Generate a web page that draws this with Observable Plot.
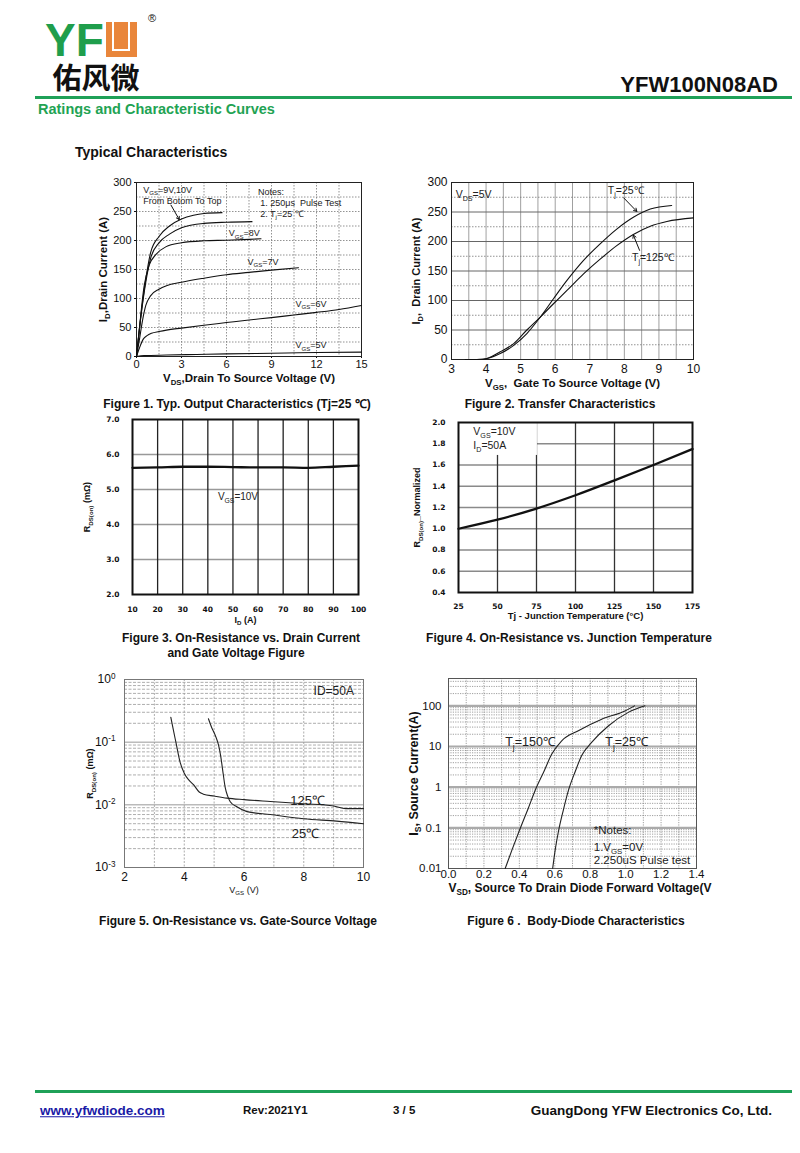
<!DOCTYPE html>
<html>
<head>
<meta charset="utf-8">
<script src="https://cdn.jsdelivr.net/npm/d3@7"></script>
<script src="https://cdn.jsdelivr.net/npm/@observablehq/plot@0.6"></script>
<style>
  body { margin: 0; background: #fff; }
  #page { position: relative; width: 800px; height: 1153px; overflow: hidden; background: #fff;
          font-family: "Liberation Sans", Arial, sans-serif; color: #111; }
  .abs { position: absolute; white-space: nowrap; line-height: 1; }
</style>
</head>
<body>
<div id="page"></div>
<script>
// ---------------- DATA ----------------
// Figure 1: Output characteristics [V_DS (V), I_D (A)]
const fig1Vgs5  = [[0,0],[0.5,1.5],[2,2.5],[4,3.5],[6,4.5],[8,5.3],[10,6],[12,6.8],[15,7.5]];
const fig1Vgs6  = [[0,0],[0.2,15],[0.45,30],[0.7,36],[1,40],[1.5,43],[2,45.5],[3,49],[4.5,54],[6,58.5],[7.5,63],[9,67],[10.5,71.5],[12,76],[13.5,81],[15,88]];
const fig1Vgs7  = [[0,0],[0.2,30],[0.4,62],[0.62,88],[0.95,105],[1.5,116],[2,122],[3,128],[4.5,135],[6,141],[7.5,145],[9,149],[10.8,153]];
const fig1Vgs8  = [[0,0],[0.2,50],[0.5,120],[0.84,157],[1.3,176],[1.95,189],[3,196],[4.5,199.5],[6,200.5],[7.5,202],[8.3,203]];
const fig1Vgs9  = [[0,0],[0.3,70],[0.6,125],[0.95,170],[1.5,196],[2.2,211],[3,222],[4.5,229.5],[6,231.5],[7.7,232.5]];
const fig1Vgs10 = [[0,0],[0.3,72],[0.6,130],[0.95,180],[1.5,207],[2.2,225],[3,237],[3.8,243.5],[4.5,246.5],[5.7,248]];
const fig1XTicks = [0,3,6,9,12,15];
const fig1YTicks = [0,50,100,150,200,250,300];
const fig1Notes = [
  {x:0.45, y:287, t:"V_{GS}=9V,10V"},
  {x:0.45, y:268, t:"From Botom To Top"},
  {x:8.1,  y:284, t:"Notes:"},
  {x:8.25, y:265, t:"1. 250μs  Pulse Test"},
  {x:8.25, y:246, t:"2. T_{j}=25 ℃"},
  {x:6.15, y:212, t:"V_{GS}=8V"},
  {x:7.4,  y:163, t:"V_{GS}=7V"},
  {x:10.6, y:91,  t:"V_{GS}=6V"},
  {x:10.6, y:19,  t:"V_{GS}=5V"}
];
const fig1Arrow = [{x1:2.3, y1:261, x2:2.85, y2:236}];

// Figure 2: Transfer characteristics [V_GS (V), I_D (A)]
const fig2T25  = [[3.4,0],[3.74,0],[4.03,1.7],[4.41,10],[4.8,24],[5.18,44],[5.57,72],[5.95,103],[6.34,134],[6.82,168],[7.3,196],[7.78,221],[8.26,241],[8.75,255],[9.37,261]];
const fig2T125 = [[3.4,0],[3.93,0.5],[4.41,13],[4.8,27],[5.18,50],[5.57,72],[5.95,94.5],[6.34,117],[6.82,145],[7.3,170],[7.78,193],[8.26,212],[8.75,226],[9.23,234],[10,240]];
const fig2XTicks = [3,4,5,6,7,8,9,10];
const fig2YTicks = [0,50,100,150,200,250,300];
const fig2Notes = [
  {x:3.12, y:280, t:"V_{DS}=5V"},
  {x:7.52, y:286, t:"T_{j}=25℃"},
  {x:8.22, y:172, t:"T_{j}=125℃"}
];
const fig2Arrows = [
  {x1:7.98, y1:274, x2:8.36, y2:251},
  {x1:8.44, y1:185, x2:8.26, y2:211}
];

// Figure 3: R_DS(on) vs I_D
const fig3Id   = [10,20,30,40,50,60,70,80,90,100];
const fig3Rds  = [5.62,5.63,5.65,5.65,5.64,5.63,5.63,5.62,5.65,5.68];
const fig3XTicks = [10,20,30,40,50,60,70,80,90,100];
const fig3YTicks = [2,3,4,5,6,7];
const fig3Notes = [{x:44, y:4.78, t:"V_{GS}=10V"}];

// Figure 4: normalized R_DS(on) vs Tj
const fig4Tj   = [25,50,75,100,125,150,175];
const fig4Rn   = [1.0,1.085,1.19,1.315,1.455,1.6,1.75];
const fig4XTicks = [25,50,75,100,125,150,175];
const fig4YTicks = [0.4,0.6,0.8,1.0,1.2,1.4,1.6,1.8,2.0];
const fig4Notes = [{x:34.5, y:1.91, t:"V_{GS}=10V"},{x:34.5, y:1.78, t:"I_{D}=50A"}];
const fig4NoteBox = [{x1:25.6, x2:75.6, y1:1.69, y2:1.995}];

// Figure 5: R_DS(on) vs V_GS (log)
const fig5T125 = [[3.55,0.25],[3.62,0.17],[3.72,0.1],[3.86,0.048],[4.0,0.032],[4.15,0.025],[4.31,0.021],[4.5,0.016],[4.64,0.0148],[5.0,0.0138],[5.43,0.0128],[6.0,0.0121],[6.88,0.0113],[8.0,0.0104],[9.0,0.0096],[9.4,0.0087],[10,0.0087]];
const fig5T25  = [[4.81,0.236],[4.92,0.17],[5.04,0.128],[5.15,0.089],[5.22,0.06],[5.3,0.032],[5.37,0.019],[5.46,0.0135],[5.54,0.0112],[5.76,0.0093],[6.1,0.0078],[6.88,0.0070],[8.0,0.006],[9.1,0.0055],[10,0.005]];
const fig5XTicks = [2,4,6,8,10];
const fig5YTicks = [0.001,0.01,0.1,1];
const fig5Notes = [{x:8.33, y:0.66, t:"ID=50A"},{x:7.55, y:0.0118, t:"125℃"},{x:7.6, y:0.0035, t:"25℃"}];

// Figure 6: body diode (log)
const fig6T150 = [[0.32,0.01],[0.36,0.03],[0.404,0.095],[0.45,0.3],[0.489,0.83],[0.54,2.5],[0.583,6.5],[0.639,13.8],[0.733,24.5],[0.865,47],[0.996,75],[1.05,100]];
const fig6T25  = [[0.588,0.01],[0.603,0.03],[0.62,0.079],[0.648,0.27],[0.677,0.83],[0.715,2.4],[0.752,6],[0.808,12.6],[0.902,32],[1.015,69],[1.109,100]];
const fig6XTicks = [0,0.2,0.4,0.6,0.8,1.0,1.2,1.4];
const fig6YTicks = [0.01,0.1,1,10,100];
const fig6Notes = [
  {x:0.32, y:12.6, t:"T_{j}=150℃"},
  {x:0.885, y:12.6, t:"T_{j}=25℃"},
  {x:0.82, y:0.087, t:"*Notes:"},
  {x:0.82, y:0.034, t:"1.V_{GS}=0V"},
  {x:0.82, y:0.0155, t:"2.250uS Pulse test"}
];

// ---------------- HELPERS ----------------
const page = document.getElementById("page");
const NS = "http://www.w3.org/2000/svg";
const SANS = "'Liberation Sans', Arial, sans-serif";
const DEJA = "'DejaVu Sans', Verdana, sans-serif";

function rich(root) {
  root.querySelectorAll("text").forEach(el => {
    if (el.childElementCount) return;
    const s = el.textContent;
    if (!/[_^]\{/.test(s)) return;
    const fs = parseFloat(getComputedStyle(el).fontSize) || 10;
    el.textContent = "";
    const re = /([_^])\{([^}]*)\}/g;
    let last = 0, m, shift = 0;
    const add = (txt, dy, small) => {
      const t = document.createElementNS(NS, "tspan");
      t.textContent = txt;
      if (dy) t.setAttribute("dy", dy.toFixed(2));
      if (small) t.setAttribute("font-size", (fs * 0.68).toFixed(2));
      el.appendChild(t);
    };
    while ((m = re.exec(s))) {
      if (m.index > last) { add(s.slice(last, m.index), -shift, false); shift = 0; }
      const k = (m[1] === "_" ? 0.28 : -0.4) * fs;
      add(m[2], k - shift, true); shift = k;
      last = re.lastIndex;
    }
    if (last < s.length) add(s.slice(last), -shift, false);
  });
}
function place(svg, left, top) {
  svg.style.position = "absolute";
  svg.style.left = left + "px";
  svg.style.top = top + "px";
  page.appendChild(svg);
  rich(svg);
}
function html(text, x, y, css, anchor = "middle") {
  const d = document.createElement("div");
  d.className = "abs";
  d.textContent = text;
  Object.assign(d.style, css);
  d.style.left = x + "px";
  d.style.top = y + "px";
  d.style.transform = anchor === "middle" ? "translate(-50%,-50%)" : anchor === "end" ? "translate(-100%,-50%)" : "translate(0,-50%)";
  page.appendChild(d);
  return d;
}
function box(x, y, w, h, css) {
  const d = document.createElement("div");
  d.style.position = "absolute";
  d.style.left = x + "px"; d.style.top = y + "px";
  d.style.width = w + "px"; d.style.height = h + "px";
  Object.assign(d.style, css);
  page.appendChild(d);
  return d;
}
const px = d => d[0], py = d => d[1];
const baseStyle = (fs, ff = SANS, fw = "normal") => ({fontFamily: ff, fontSize: fs + "px", fontWeight: fw, color: "#111", background: "transparent", overflow: "visible"});
function minorLog(lo, hi) {
  const out = [];
  for (let e = lo; e < hi; e++) for (let k = 2; k <= 9; k++) out.push(k * Math.pow(10, e));
  return out;
}

// ---------------- HEADER ----------------
const GREEN = "#1fa158";
html("YF", 45, 39.5, {fontSize: "46px", lineHeight: "0.75", fontWeight: "bold", color: "#1f9e4c", fontFamily: SANS}, "start");
const ubox = box(106, 22, 31, 35, {background: "#e9863b"});
const uin = document.createElement("div");
Object.assign(uin.style, {position: "absolute", left: "6px", top: "0px", width: "14px", height: "27px", border: "2px solid #fff", borderTop: "none"});
ubox.appendChild(uin);
html("®", 152, 18, {fontSize: "11px", fontFamily: SANS});
html("佑风微", 96, 77, {fontSize: "29px", lineHeight: "0.95", fontWeight: "bold", fontFamily: "'Noto Sans CJK SC', sans-serif", letterSpacing: "0px"});
html("YFW100N08AD", 778, 85, {fontSize: "22px", fontWeight: "bold", fontFamily: SANS}, "end");
box(35, 96, 757, 2.5, {background: GREEN});
html("Ratings and Characteristic Curves", 38, 109, {fontSize: "14.5px", fontWeight: "bold", color: "#22a353", fontFamily: SANS}, "start");
html("Typical Characteristics", 75, 152, {fontSize: "14px", fontWeight: "bold", fontFamily: SANS}, "start");

// ---------------- FIGURE 1 ----------------
const dotted = {stroke: "#777", strokeWidth: 0.8, strokeDasharray: "1.5,1.5"};
const fig1 = Plot.plot({
  width: 275, height: 221, marginLeft: 40, marginRight: 10, marginTop: 10, marginBottom: 37,
  style: baseStyle(11),
  x: {domain: [0, 15], ticks: fig1XTicks, tickSize: 2, tickPadding: 2, tickFormat: d3.format("d"), label: null},
  y: {domain: [0, 300], ticks: fig1YTicks, tickSize: 2, tickPadding: 3, tickFormat: d3.format("d"), label: null},
  marks: [
    Plot.ruleX(d3.range(1.5, 15, 1.5), dotted),
    Plot.ruleY(d3.range(25, 300, 25), dotted),
    Plot.frame({stroke: "#222", strokeWidth: 1}),
    ...[fig1Vgs5, fig1Vgs6, fig1Vgs7, fig1Vgs8, fig1Vgs9, fig1Vgs10].map(s =>
      Plot.line(s, {x: px, y: py, curve: "monotone-x", stroke: "#111", strokeWidth: 1.1})),
    Plot.arrow(fig1Arrow, {x1: "x1", y1: "y1", x2: "x2", y2: "y2", stroke: "#111", strokeWidth: 1, headLength: 5}),
    Plot.text(fig1Notes, {x: "x", y: "y", text: "t", textAnchor: "start", fontSize: 9, fill: "#222"}),
    Plot.text(["V_{DS},Drain To Source Voltage (V)"], {text: d => d, frameAnchor: "bottom", dy: 25, fontWeight: "bold", fontSize: 11.5}),
    Plot.text(["I_{D},Drain Current (A)"], {text: d => d, frameAnchor: "left", dx: -33, rotate: -90, textAnchor: "middle", fontWeight: "bold", fontSize: 11.5})
  ]
});
place(fig1, 96, 172);
html("Figure 1. Typ. Output Characteristics (Tj=25 ℃)", 237, 403.5, {fontSize: "12px", fontWeight: "bold", fontFamily: SANS});

// ---------------- FIGURE 2 ----------------
const fig2 = Plot.plot({
  width: 304, height: 227, marginLeft: 50, marginRight: 12, marginTop: 10, marginBottom: 40,
  style: baseStyle(12),
  x: {domain: [3, 10], ticks: fig2XTicks, tickSize: 0, tickPadding: 5, tickFormat: d3.format("d"), label: null},
  y: {domain: [0, 300], ticks: fig2YTicks, tickSize: 0, tickPadding: 4, tickFormat: d3.format("d"), label: null},
  marks: [
    Plot.ruleX(d3.range(3.5, 10, 0.5), {stroke: "#888", strokeWidth: 0.8}),
    Plot.ruleY(d3.range(25, 300, 50), dotted),
    Plot.ruleY(d3.range(50, 300, 50), {stroke: "#666", strokeWidth: 1}),
    Plot.frame({stroke: "#222", strokeWidth: 1}),
    Plot.line(fig2T25, {x: px, y: py, curve: "monotone-x", stroke: "#111", strokeWidth: 1.1}),
    Plot.line(fig2T125, {x: px, y: py, curve: "monotone-x", stroke: "#111", strokeWidth: 1.1}),
    Plot.arrow(fig2Arrows, {x1: "x1", y1: "y1", x2: "x2", y2: "y2", stroke: "#111", strokeWidth: 1, headLength: 5}),
    Plot.text(fig2Notes, {x: "x", y: "y", text: "t", textAnchor: "start", fontSize: 10.5, fill: "#222"}),
    Plot.text(["V_{GS},  Gate To Source Voltage (V)"], {text: d => d, frameAnchor: "bottom", dy: 27, fontWeight: "bold", fontSize: 11.5}),
    Plot.text(["I_{D},  Drain Current (A)"], {text: d => d, frameAnchor: "left", dx: -35, rotate: -90, textAnchor: "middle", fontWeight: "bold", fontSize: 11})
  ]
});
place(fig2, 401, 172);
html("Figure 2. Transfer Characteristics", 560, 403.5, {fontSize: "12px", fontWeight: "bold", fontFamily: SANS});

// ---------------- FIGURE 3 ----------------
const fig3 = Plot.plot({
  width: 288, height: 219, marginLeft: 50, marginRight: 12, marginTop: 8, marginBottom: 36,
  style: baseStyle(7.5, DEJA, "bold"),
  x: {domain: [10, 100], ticks: fig3XTicks, tickSize: 0, tickPadding: 12, tickFormat: d3.format("d"), label: null},
  y: {domain: [2, 7], ticks: fig3YTicks, tickSize: 0, tickPadding: 13, tickFormat: d3.format(".1f"), label: null},
  marks: [
    Plot.ruleY([3, 4, 5, 6], {stroke: "#999", strokeWidth: 1.3}),
    Plot.ruleX(d3.range(20, 100, 10), {stroke: "#222", strokeWidth: 1.3}),
    Plot.frame({stroke: "#111", strokeWidth: 2}),
    Plot.line(fig3Id.map((d, i) => [d, fig3Rds[i]]), {x: px, y: py, curve: "monotone-x", stroke: "#111", strokeWidth: 2.3}),
    Plot.text(fig3Notes, {x: "x", y: "y", text: "t", textAnchor: "start", fontSize: 10, fontWeight: "normal", fontFamily: SANS, fill: "#222"}),
    Plot.text(["I_{D} (A)"], {text: d => d, frameAnchor: "bottom", dy: 28, fontWeight: "bold", fontSize: 9, fontFamily: SANS}),
    Plot.text(["R_{DS(on)} (mΩ)"], {text: d => d, frameAnchor: "left", dx: -45, rotate: -90, textAnchor: "middle", fontWeight: "bold", fontSize: 9, fontFamily: SANS})
  ]
});
place(fig3, 82, 411);
html("Figure 3. On-Resistance vs. Drain Current", 241, 638, {fontSize: "12px", fontWeight: "bold", fontFamily: SANS});
html("and Gate Voltage Figure", 236, 652.5, {fontSize: "12px", fontWeight: "bold", fontFamily: SANS});

// ---------------- FIGURE 4 ----------------
const fig4 = Plot.plot({
  width: 296, height: 218, marginLeft: 48, marginRight: 14, marginTop: 10, marginBottom: 38,
  style: baseStyle(7.5, DEJA, "bold"),
  x: {domain: [25, 175], ticks: fig4XTicks, tickSize: 0, tickPadding: 11, tickFormat: d3.format("d"), label: null},
  y: {domain: [0.4, 2.0], ticks: fig4YTicks, tickSize: 0, tickPadding: 13, tickFormat: d3.format(".1f"), label: null},
  marks: [
    Plot.ruleY([0.6, 0.8, 1.0, 1.2, 1.4, 1.6, 1.8], {stroke: "#8a8a8a", strokeWidth: 1.3}),
    Plot.ruleX([50, 75, 100, 125, 150], {stroke: "#333", strokeWidth: 1.3}),
    Plot.rect(fig4NoteBox, {x1: "x1", x2: "x2", y1: "y1", y2: "y2", fill: "#fff"}),
    Plot.frame({stroke: "#111", strokeWidth: 2}),
    Plot.line(fig4Tj.map((d, i) => [d, fig4Rn[i]]), {x: px, y: py, curve: "monotone-x", stroke: "#111", strokeWidth: 2.3}),
    Plot.text(fig4Notes, {x: "x", y: "y", text: "t", textAnchor: "start", fontSize: 10.5, fontWeight: "normal", fontFamily: SANS, fill: "#222"}),
    Plot.text(["Tj - Junction Temperature (°C)"], {text: d => d, frameAnchor: "bottom", dy: 26, fontWeight: "bold", fontSize: 9.5, fontFamily: SANS}),
    Plot.text(["R_{DS(on)}_Normalized"], {text: d => d, frameAnchor: "left", dx: -41, rotate: -90, textAnchor: "middle", fontWeight: "bold", fontSize: 9, fontFamily: SANS})
  ]
});
place(fig4, 410, 412);
html("Figure 4. On-Resistance vs. Junction Temperature", 569, 638, {fontSize: "12px", fontWeight: "bold", fontFamily: SANS});

// ---------------- FIGURE 5 ----------------
const fig5 = Plot.plot({
  width: 296, height: 233, marginLeft: 45, marginRight: 12, marginTop: 10, marginBottom: 35,
  style: baseStyle(12),
  x: {domain: [2, 10], ticks: fig5XTicks, tickSize: 0, tickPadding: 5, tickFormat: d3.format("d"), label: null},
  y: {type: "log", domain: [0.001, 1], ticks: fig5YTicks, tickSize: 0, tickPadding: 9, tickFormat: d => "10^{" + Math.round(Math.log10(d)) + "}", label: null},
  marks: [
    Plot.ruleX([3, 4, 5, 6, 7, 8, 9], {stroke: "#999", strokeWidth: 0.8, strokeDasharray: "2,1.5"}),
    Plot.ruleY(minorLog(-3, 0), {stroke: "#999", strokeWidth: 0.8, strokeDasharray: "3,1.5"}),
    Plot.ruleY([0.01, 0.1], {stroke: "#999", strokeWidth: 1}),
    Plot.frame({stroke: "#777", strokeWidth: 1}),
    Plot.line(fig5T125, {x: px, y: py, curve: "monotone-x", stroke: "#222", strokeWidth: 1.1}),
    Plot.line(fig5T25, {x: px, y: py, curve: "monotone-x", stroke: "#222", strokeWidth: 1.1}),
    Plot.text(fig5Notes.slice(0, 1), {x: "x", y: "y", text: "t", textAnchor: "start", fontSize: 12, fill: "#222"}),
    Plot.text(fig5Notes.slice(1), {x: "x", y: "y", text: "t", textAnchor: "start", fontSize: 13, fill: "#222"}),
    Plot.text(["V_{GS} (V)"], {text: d => d, frameAnchor: "bottom", dy: 25, fontSize: 9}),
    Plot.text(["R_{DS(on)} (mΩ)"], {text: d => d, frameAnchor: "left", dx: -34, rotate: -90, textAnchor: "middle", fontWeight: "bold", fontSize: 9})
  ]
});
place(fig5, 79, 669);
html("Figure 5. On-Resistance vs. Gate-Source Voltage", 238, 920.5, {fontSize: "12px", fontWeight: "bold", fontFamily: SANS});

// ---------------- FIGURE 6 ----------------
const fig6 = Plot.plot({
  width: 319, height: 235, marginLeft: 50, marginRight: 21, marginTop: 10, marginBottom: 35,
  style: baseStyle(11.5),
  x: {domain: [0, 1.4], ticks: fig6XTicks, tickSize: 0, tickPadding: 1, tickFormat: d3.format(".1f"), label: null},
  y: {type: "log", domain: [0.01, 470], ticks: fig6YTicks, tickSize: 0, tickPadding: 7, tickFormat: d => String(d), label: null},
  marks: [
    Plot.ruleX(d3.range(1, 14).map(i => i / 10), {stroke: "#777", strokeWidth: 0.7, strokeDasharray: "1.2,1.2"}),
    Plot.ruleY(minorLog(-2, 3).filter(v => v < 470), {stroke: "#777", strokeWidth: 0.7, strokeDasharray: "1.2,1.2"}),
    Plot.ruleY([0.1, 1, 10, 100], {stroke: "#aaa", strokeWidth: 2.2}),
    Plot.frame({stroke: "#555", strokeWidth: 1}),
    Plot.line(fig6T150, {x: px, y: py, curve: "monotone-x", stroke: "#222", strokeWidth: 1.1}),
    Plot.line(fig6T25, {x: px, y: py, curve: "monotone-x", stroke: "#222", strokeWidth: 1.1}),
    Plot.text(fig6Notes.slice(0, 2), {x: "x", y: "y", text: "t", textAnchor: "start", fontSize: 12.5, fill: "#222"}),
    Plot.text(fig6Notes.slice(2), {x: "x", y: "y", text: "t", textAnchor: "start", fontSize: 11.5, fill: "#222"}),
    Plot.text(["V_{SD}, Source To Drain Diode Forward Voltage(V"], {text: d => d, frameAnchor: "bottom-left", dy: 23, textAnchor: "start", fontWeight: "bold", fontSize: 12}),
    Plot.text(["I_{S}, Source Current(A)"], {text: d => d, frameAnchor: "left", dx: -35, rotate: -90, textAnchor: "middle", fontWeight: "bold", fontSize: 12.5})
  ]
});
place(fig6, 398, 668);
html("Figure 6 .  Body-Diode Characteristics", 576, 920.5, {fontSize: "12px", fontWeight: "bold", fontFamily: SANS, whiteSpace: "pre"});

// ---------------- FOOTER ----------------
box(35, 1090, 757, 2.5, {background: GREEN});
html("www.yfwdiode.com", 40, 1111, {fontSize: "13.5px", fontWeight: "bold", color: "#1a1aa6", textDecoration: "underline", fontFamily: SANS}, "start");
html("Rev:2021Y1", 243, 1111, {fontSize: "11.5px", fontWeight: "bold", fontFamily: SANS}, "start");
html("3 / 5", 393, 1111, {fontSize: "11.5px", fontWeight: "bold", fontFamily: SANS, whiteSpace: "pre"}, "start");
html("GuangDong YFW Electronics Co, Ltd.", 772, 1111, {fontSize: "13.5px", fontWeight: "bold", fontFamily: SANS}, "end");
</script>
</body>
</html>
